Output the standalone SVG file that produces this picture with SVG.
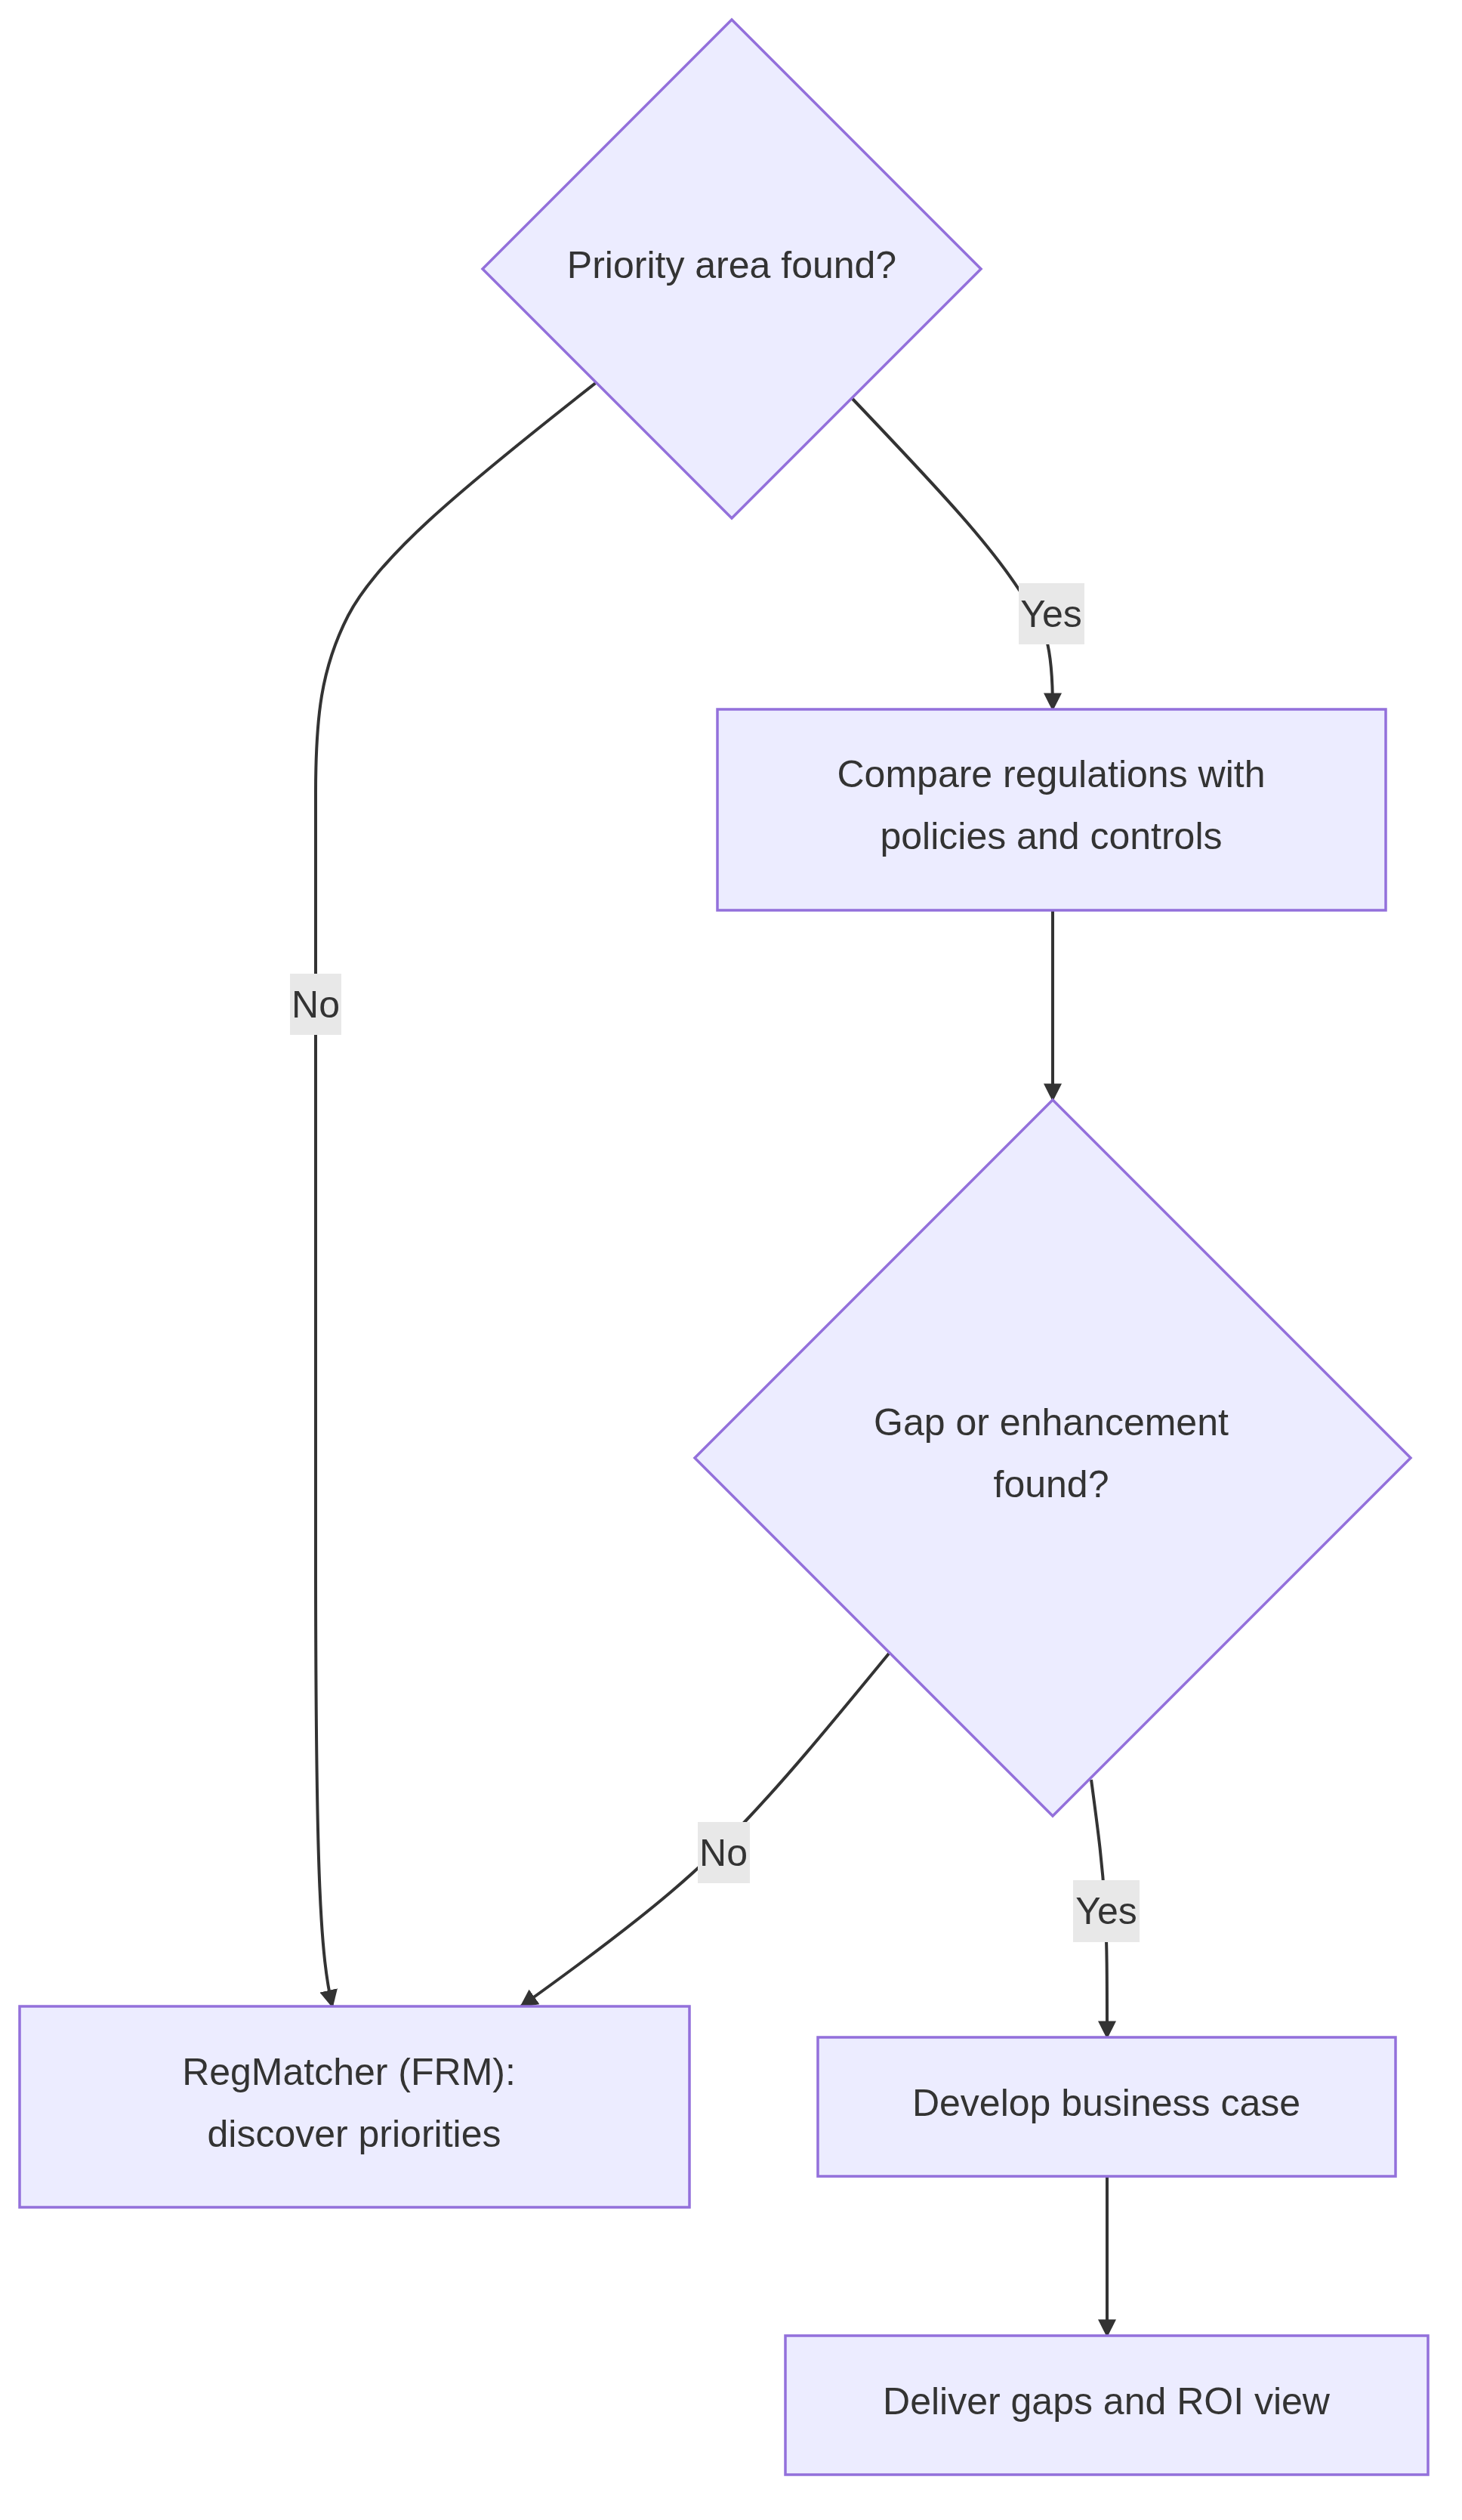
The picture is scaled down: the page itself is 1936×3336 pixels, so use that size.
<svg xmlns="http://www.w3.org/2000/svg" width="1936" height="3336" viewBox="0 0 1936 3336">
<style>
.n{fill:#ECECFF;stroke:#9370DB;stroke-width:3.5}
.t{font-family:"Liberation Sans",Arial,sans-serif;font-size:50px;fill:#333;text-anchor:middle}
.e{fill:none;stroke:#333;stroke-width:4}
.lb{fill:#e8e8e8}
</style>
<defs><marker id="a" viewBox="0 0 10 10" refX="9" refY="5" markerWidth="7" markerHeight="7" markerUnits="userSpaceOnUse" orient="auto"><path d="M0,0L10,5L0,10z" fill="#333"/></marker>
<marker id="m" viewBox="0 0 10 10" refX="9" refY="5" markerWidth="6" markerHeight="6" orient="auto"><path d="M0,0L10,5L0,10z" fill="#333"/></marker></defs>
<rect width="1936" height="3336" fill="#fff"/>
<g id="edges">
<path class="e" marker-end="url(#m)" d="M790,506C600,655 500,740 461,815C425,885 418,950 418,1050L418,2058C418,2500 425,2590 440,2656"/>
<path class="e" marker-end="url(#m)" d="M1128,527C1250,655 1310,720 1351,783C1385,830 1394,850 1394,939"/>
<path class="e" marker-end="url(#m)" d="M1394,1205L1394,1456"/>
<path class="e" marker-end="url(#m)" d="M1177,2189C1090,2295 1040,2355 986,2412C930,2470 880,2520 690,2656"/>
<path class="e" marker-end="url(#m)" d="M1445,2356C1455,2430 1460,2470 1463,2520C1466,2570 1466,2620 1466,2697"/>
<path class="e" marker-end="url(#m)" d="M1466,2881L1466,3092"/>
<rect class="lb" x="1349" y="772" width="87" height="81"/><text class="t" x="1392" y="830">Yes</text>
<rect class="lb" x="384" y="1289" width="68" height="81"/><text class="t" x="418" y="1347">No</text>
<rect class="lb" x="924" y="2412" width="69" height="81"/><text class="t" x="958" y="2470">No</text>
<rect class="lb" x="1421" y="2489" width="88" height="82"/><text class="t" x="1465" y="2547">Yes</text>
</g>
<g id="d1"><polygon class="n" points="969,26 1299,356 969,686 639,356"/><text class="t" x="969" y="368">Priority area found?</text></g>
<g id="compare"><rect class="n" x="950" y="939" width="885" height="266"/><text class="t" x="1392" y="1042">Compare regulations with</text><text class="t" x="1392" y="1124">policies and controls</text></g>
<g id="d2"><polygon class="n" points="1394,1456 1868,1930 1394,2404 920,1930"/><text class="t" x="1392" y="1900">Gap or enhancement</text><text class="t" x="1392" y="1982">found?</text></g>
<g id="regm"><rect class="n" x="26" y="2656" width="887" height="266"/><text class="t" x="462" y="2760">RegMatcher (FRM):</text><text class="t" x="469" y="2842">discover priorities</text></g>
<g id="dev"><rect class="n" x="1083" y="2697" width="765" height="184"/><text class="t" x="1465" y="2801">Develop business case</text></g>
<g id="deliver"><rect class="n" x="1040" y="3092" width="851" height="184"/><text class="t" x="1465" y="3196">Deliver gaps and ROI view</text></g>
</svg>
